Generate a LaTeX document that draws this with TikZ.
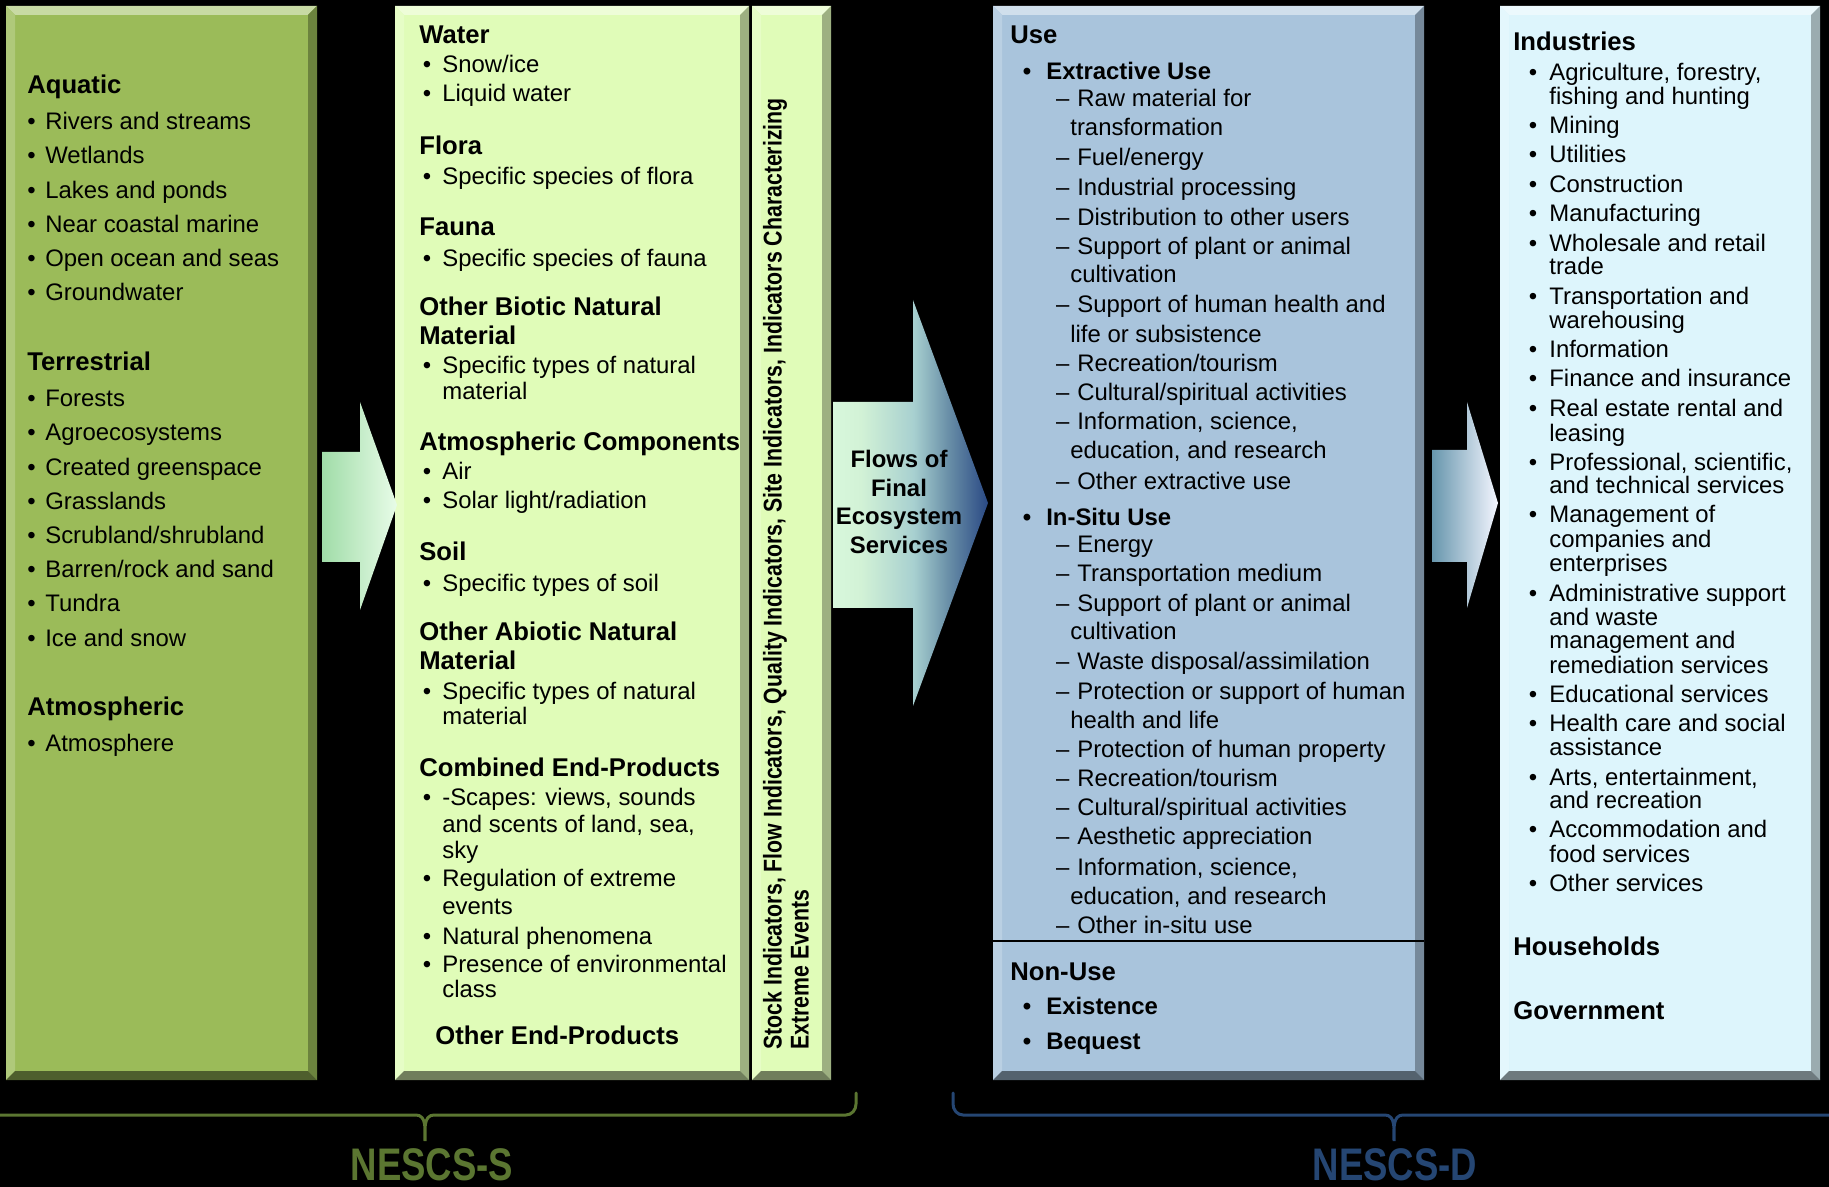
\documentclass[tikz,border=0pt]{standalone}
\usepackage{fontspec}
\setmainfont{Liberation Sans}
\newfontfamily\narrowfont[FakeStretch=0.83]{Liberation Sans}
\newfontfamily\condfont[FakeStretch=0.8]{Liberation Sans}
\usetikzlibrary{fit}

\definecolor{ecogreen}{HTML}{9BBB59}
\definecolor{endgreen}{HTML}{E0FCB8}
\definecolor{useblue}{HTML}{A9C4DC}
\definecolor{benecyan}{HTML}{DDF5FC}
\definecolor{braceS}{HTML}{5B7631}
\definecolor{braceD}{HTML}{254673}
\definecolor{arrAl}{HTML}{A0DCA8}
\definecolor{arrAr}{HTML}{E8FCE8}
\definecolor{arrCl}{HTML}{6796AD}
\definecolor{arrCm}{HTML}{D8E4EE}
\definecolor{arrCr}{HTML}{F4F6FF}
\definecolor{fesA}{HTML}{D8F8DC}
\definecolor{fesB}{HTML}{D2F2D6}
\definecolor{fesC}{HTML}{A8D0D0}
\definecolor{fesE}{HTML}{6A90A8}
\definecolor{fesD}{HTML}{2A4984}
\pgfdeclarehorizontalshading{fesshade}{100bp}{color(0bp)=(fesA); color(25bp)=(fesA);
  color(34bp)=(fesB); color(51bp)=(fesC); color(62bp)=(fesE); color(75bp)=(fesD); color(100bp)=(fesD)}

\newcommand{\bul}[1][2.2mm]{\llap{\textbullet\hspace{#1}}}
\newcommand{\dsh}{\llap{–\hspace{1.6mm}}}
% bevelled edges round a box node
\newcommand{\bevel}[2]{%
  \fill[#2!55!white] (#1.north west) -- (#1.north east) -- ([shift={(-9,9)}]#1.north east) -- ([shift={(9,9)}]#1.north west) -- cycle;
  \fill[#2!80!white] (#1.north west) -- ([shift={(9,9)}]#1.north west) -- ([shift={(9,-9)}]#1.south west) -- (#1.south west) -- cycle;
  \fill[#2!70!black] (#1.north east) -- (#1.south east) -- ([shift={(-9,-9)}]#1.south east) -- ([shift={(-9,9)}]#1.north east) -- cycle;
  \fill[#2!50!black] (#1.south west) -- (#1.south east) -- ([shift={(-9,-9)}]#1.south east) -- ([shift={(9,-9)}]#1.south west) -- cycle;
}

\tikzset{
  box/.style={inner sep=0pt, outer sep=0pt},
  txt/.style={anchor=west, inner sep=0pt, text height=9.8pt, text depth=0pt, font=\fontsize{13.6}{16}\selectfont},
  hd/.style={txt, font=\fontsize{14.6}{17}\selectfont\bfseries},
  sub/.style={txt, font=\fontsize{13.6}{16}\selectfont\bfseries},
  side/.style={anchor=west, rotate=90, inner sep=0pt, text height=9.8pt, text depth=0pt, font=\narrowfont\fontsize{14.6}{17}\selectfont\bfseries},
  flow/.style={align=center, inner sep=0pt, font=\fontsize{13.6}{16.4}\selectfont\bfseries},
  bracket/.style={line width=0.6mm, line cap=round},
  tag/.style={anchor=base, inner sep=0pt, text depth=0pt, font=\condfont\fontsize{26}{28}\selectfont\bfseries}
}

\begin{document}
\begin{tikzpicture}[x=0.2mm, y=-0.2mm]
  \useasboundingbox (0,0) rectangle (1829,1187);
  \fill[black] (0,0) rectangle (1829,1187);

  % columns
  \node[box, fill=ecogreen, fit={(6,6) (317,1080)}] (eco) {};
  \node[box, fill=endgreen, fit={(395,6) (749,1080)}] (prod) {};
  \node[box, fill=endgreen, fit={(752,6) (831,1080)}] (ind) {};
  \node[box, fill=useblue, fit={(993,6) (1424,1080)}] (use) {};
  \node[box, fill=benecyan, fit={(1500,6) (1820,1080)}] (bene) {};
  \bevel{eco}{ecogreen}
  \bevel{prod}{endgreen}
  \bevel{ind}{endgreen}
  \bevel{use}{useblue}
  \bevel{bene}{benecyan}
  \draw[line width=0.4mm] (use.west |- 0,941) -- (use.east |- 0,941);

  % block arrows
  \shade[left color=arrAl, right color=arrAr] (322,452) -- (360,452) -- (360,402) -- (397,505)
    -- (360,610) -- (360,562) -- (322,562) -- cycle;
  \shade[shading=fesshade] (833,402) -- (913,402) -- (913,300) -- (988,503)
    -- (913,706) -- (913,608) -- (833,608) -- cycle;
  \shade[left color=arrCl, middle color=arrCm, right color=arrCr] (1432,450) -- (1467,450) -- (1467,402)
    -- (1498,503) -- (1467,608) -- (1467,562) -- (1432,562) -- cycle;
  \node[flow] (fes) at (899,502) {Flows of\\Final\\Ecosystem\\Services};

  % ecosystems
  \node[hd] (aquatic) at (27,85) {Aquatic};
  \foreach \word [count=\i] in {Rivers and streams, Wetlands, Lakes and ponds, Near coastal marine,
      Open ocean and seas, Groundwater}
    \node[txt] (aq\i) at (45,{121+34.2*(\i-1)}) {\bul[1.9mm]\word};
  \node[hd] (terr) at (27,362) {Terrestrial};
  \foreach \word [count=\i] in {Forests, Agroecosystems, Created greenspace, Grasslands,
      Scrubland/shrubland, Barren/rock and sand, Tundra, Ice and snow}
    \node[txt] (te\i) at (45,{398+34.2*(\i-1)}) {\bul[1.9mm]\word};
  \node[hd] (atmo) at (27,707) {Atmospheric};
  \node[txt] (at1) at (45,743) {\bul[1.9mm]Atmosphere};

  % end-products
  \foreach \y/\word [count=\i] in {35/Water, 146/Flora, 227/Fauna, 307/Other Biotic Natural, 336/Material,
      442/Atmospheric Components, 552/Soil, 632/Other Abiotic Natural, 661/Material, 768/Combined End-Products}
    \node[hd] (ph\i) at (419,\y) {\word};
  \node[hd] (pother) at (435,1036) {Other End-Products};
  \foreach \y/\word [count=\i] in {64/{Snow/ice}, 93/Liquid water, 176/Specific species of flora,
      258/Specific species of fauna, 365/Specific types of natural, 471/Air, 500/{Solar light/radiation},
      583/Specific types of soil, 691/Specific types of natural, 797/{-Scapes: views, sounds},
      878/Regulation of extreme, 936/Natural phenomena, 964/Presence of environmental}
    \node[txt] (pb\i) at (442,\y) {\bul\word};
  \foreach \y/\word [count=\i] in {391/material, 716/material, 824/{and scents of land, sea,}, 850/sky,
      906/events, 989/class}
    \node[txt] (pc\i) at (442,\y) {\word};
  \node[side] (ind1) at (773,1050) {Stock Indicators, Flow Indicators, Quality Indicators, Site Indicators, Indicators Characterizing};
  \node[side] (ind2) at (800,1050) {Extreme Events};

  % use
  \node[hd] (usehd) at (1010,35) {Use};
  \node[hd] (nonuse) at (1010,972) {Non-Use};
  \foreach \y/\word [count=\i] in {71/Extractive Use, 517/In-Situ Use, 1006/Existence, 1041/Bequest}
    \node[sub] (ub\i) at (1046,\y) {\bul[3mm]\word};
  \foreach \y/\word [count=\i] in {98/Raw material for, 157/{Fuel/energy}, 187/Industrial processing,
      217/Distribution to other users, 246/Support of plant or animal, 304/Support of human health and,
      363/{Recreation/tourism}, 392/{Cultural/spiritual activities}, 421/{Information, science,},
      481/Other extractive use, 544/Energy, 573/Transportation medium, 603/Support of plant or animal,
      661/{Waste disposal/assimilation}, 691/Protection or support of human, 749/Protection of human property,
      778/{Recreation/tourism}, 807/{Cultural/spiritual activities}, 836/Aesthetic appreciation,
      867/{Information, science,}, 925/Other in-situ use}
    \node[txt] (ud\i) at (1077,\y) {\dsh\word};
  \foreach \y/\word [count=\i] in {127/transformation, 274/cultivation, 334/life or subsistence,
      450/{education, and research}, 631/cultivation, 720/health and life, 896/{education, and research}}
    \node[txt] (uc\i) at (1070,\y) {\word};

  % beneficiaries
  \foreach \y/\word [count=\i] in {42/Industries, 947/Households, 1011/Government}
    \node[hd] (bh\i) at (1513,\y) {\word};
  \foreach \y/\word [count=\i] in {72/{Agriculture, forestry,}, 125/Mining, 154/Utilities, 184/Construction,
      213/Manufacturing, 243/Wholesale and retail, 296/Transportation and, 349/Information,
      378/Finance and insurance, 408/Real estate rental and, 462/{Professional, scientific,},
      514/Management of, 593/Administrative support, 694/Educational services, 723/Health care and social,
      777/{Arts, entertainment,}, 829/Accommodation and, 883/Other services}
    \node[txt] (bb\i) at (1549,\y) {\bul[2.4mm]\word};
  \foreach \y/\word [count=\i] in {96/fishing and hunting, 266/trade, 320/warehousing, 433/leasing,
      485/and technical services, 539/companies and, 563/enterprises, 617/and waste, 640/management and,
      665/remediation services, 747/assistance, 800/and recreation, 854/food services}
    \node[txt] (bc\i) at (1549,\y) {\word};

  % braces
  \draw[bracket, braceS] (-5,1115) -- (416,1115) to[out=0,in=90] (425,1141) to[out=90,in=180] (434,1115)
    -- (846,1115) to[out=0,in=-90] (856,1104) -- (856,1093);
  \draw[bracket, braceD] (953,1093) -- (953,1104) to[out=-90,in=180] (963,1115) -- (1385,1115)
    to[out=0,in=90] (1394,1141) to[out=90,in=180] (1403,1115) -- (1835,1115);
  \node[tag, text=braceS] (nescsS) at (432,1180) {NESCS-S};
  \node[tag, text=braceD] (nescsD) at (1395,1180) {NESCS-D};
\end{tikzpicture}
\end{document}
